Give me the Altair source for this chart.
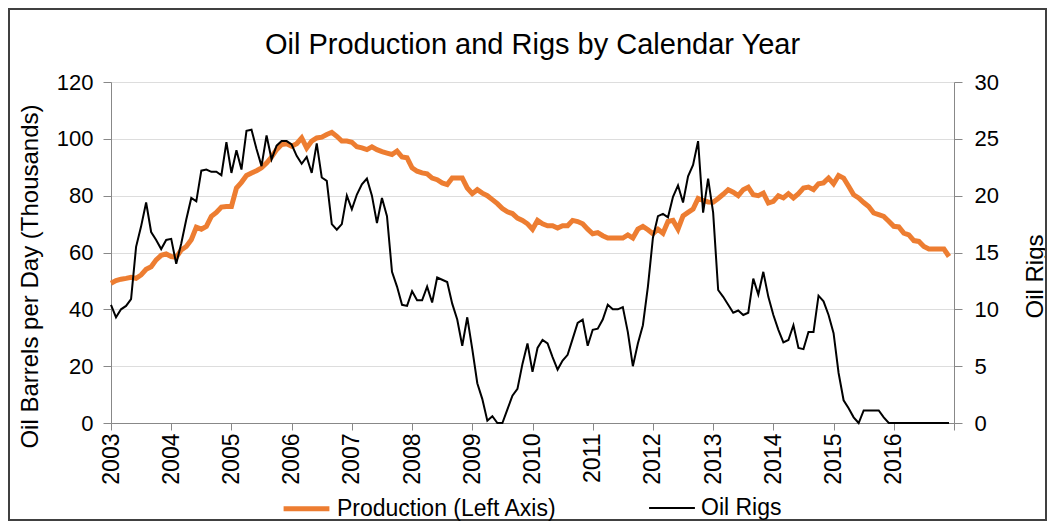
import altair as alt
import pandas as pd

# Monthly values, Jan 2003 .. Dec 2016
production = [
    49.2, 50.1, 50.6, 50.9, 51.3, 50.9, 52.1, 54.1, 55.0, 57.4, 59.0, 59.5,
    58.6, 58.3, 60.9, 62.1, 64.5, 68.9, 68.2, 69.2, 72.7, 74.1, 76.0, 76.2,
    76.2, 82.7, 84.7, 87.1, 88.0, 88.8, 89.8, 91.5, 93.6, 96.2, 98.0, 98.3,
    97.4, 98.3, 100.3, 96.8, 99.2, 100.3, 100.6, 101.5, 102.3, 100.9, 99.2, 99.2,
    98.8, 97.2, 96.8, 96.2, 97.2, 96.2, 95.5, 95.0, 94.5, 95.7, 93.6, 93.3,
    89.8, 88.6, 88.0, 87.7, 86.2, 85.6, 84.5, 83.9, 86.2, 86.2, 86.2, 82.7,
    80.7, 82.1, 80.9, 80.0, 78.6, 77.2, 75.5, 74.3, 73.7, 72.1, 71.3, 70.1,
    68.2, 71.3, 70.1, 69.4, 69.4, 68.6, 69.4, 69.4, 71.3, 70.9, 70.1, 68.2,
    66.6, 67.0, 65.9, 65.1, 65.1, 65.1, 65.1, 66.2, 65.1, 68.2, 69.2, 68.0,
    66.6, 68.2, 66.8, 70.9, 71.3, 68.2, 72.9, 74.1, 75.3, 79.0, 78.3, 77.8,
    77.7, 79.0, 80.5, 82.1, 81.2, 80.0, 82.1, 83.0, 80.3, 80.0, 80.9, 77.4,
    78.0, 80.0, 79.2, 80.7, 79.2, 80.7, 82.7, 83.0, 82.1, 84.2, 84.5, 86.2,
    84.2, 87.1, 86.2, 83.3, 80.3, 79.2, 77.6, 76.2, 73.9, 73.3, 72.7, 71.0,
    69.2, 69.0, 66.8, 66.2, 64.2, 63.9, 62.1, 61.2, 61.2, 61.2, 61.2, 58.6,
]

rigs = [
    10.4, 9.3, 10.0, 10.3, 10.9, 15.5, 17.3, 19.4, 16.8, 16.1, 15.3, 16.1,
    16.2, 14.0, 15.8, 17.9, 19.8, 19.5, 22.2, 22.3, 22.1, 22.1, 21.8, 24.7,
    22.0, 24.0, 22.3, 25.7, 25.8, 24.1, 22.6, 25.3, 23.2, 24.4, 24.8, 24.8,
    24.5, 23.5, 22.8, 23.4, 22.0, 24.6, 21.6, 21.3, 17.5, 17.0, 17.5, 20.0,
    18.8, 20.1, 21.0, 21.5, 20.0, 17.6, 19.8, 18.2, 13.3, 12.0, 10.4, 10.3,
    11.6, 10.8, 10.8, 12.0, 10.6, 12.8, 12.6, 12.4, 10.5, 9.1, 6.8, 9.3,
    6.5, 3.5, 2.1, 0.2, 0.6, 0.0, 0.0, 1.2, 2.4, 3.0, 5.2, 7.0,
    4.5, 6.6, 7.3, 7.0, 5.8, 4.7, 5.5, 6.0, 7.4, 8.8, 9.1, 6.8,
    8.2, 8.3, 9.1, 10.4, 10.0, 10.0, 10.2, 8.0, 5.0, 7.0, 8.6, 12.0,
    16.3, 18.2, 18.4, 18.1, 19.9, 20.9, 19.4, 21.7, 22.7, 24.8, 18.5, 21.5,
    18.5, 11.7, 11.1, 10.4, 9.7, 9.9, 9.5, 9.7, 12.7, 11.3, 13.3, 11.1,
    9.5, 8.2, 7.1, 7.3, 8.6, 6.6, 6.5, 8.0, 8.0, 11.2, 10.7, 9.5,
    7.9, 4.4, 2.0, 1.3, 0.5, 0.0, 1.1, 1.1, 1.1, 1.1, 0.5, 0.0,
    0.0, 0.0, 0.0, 0.0, 0.0, 0.0, 0.0, 0.0, 0.0, 0.0, 0.0, 0.0,
]

series_names = ["Production (Left Axis)", "Oil Rigs"]
series_colors = ["#ED7D31", "#000000"]
series_widths = [5.0, 2.0]
year_ticks = list(range(2003, 2018))
left_ticks = [0, 20, 40, 60, 80, 100, 120]
right_ticks = [0, 5, 10, 15, 20, 25, 30]
start_year = 2003

df = pd.DataFrame({
    "t": [start_year + k / 12 for k in range(len(production))],
    series_names[0]: production,
    series_names[1]: rigs,
})

FONT = "Liberation Sans"
GRID = "#a6a6a6"

x_enc = alt.X(
    "t:Q",
    scale=alt.Scale(domain=[2003, 2017], nice=False, zero=False),
    axis=alt.Axis(
        values=year_ticks, format="d",
        labelExpr="datum.value < 2017 ? datum.label : ''",
        labelAngle=270, labelAlign="right", labelBaseline="middle",
        labelPadding=3, tickSize=7, grid=False, title=None,
        labelFontSize=23, labelFlush=False, labelOverlap=False,
    ),
)

color_enc = alt.Color(
    "series:N",
    scale=alt.Scale(domain=series_names, range=series_colors),
    legend=alt.Legend(
        title=None, orient="none", direction="horizontal",
        legendX=170, legendY=401,
        symbolType="stroke", symbolSize=2100, labelFontSize=23,
        labelFont=FONT, labelColor="#000000", labelOffset=5,
        labelFontWeight="normal", labelLimit=400,
        columnPadding=88, symbolOffset=0, padding=0,
    ),
)
sw_enc = alt.StrokeWidth(
    "series:N",
    scale=alt.Scale(domain=series_names, range=series_widths),
)

base = alt.Chart(df).transform_fold(series_names, as_=["series", "value"])

prod_layer = base.transform_filter(
    alt.datum.series == series_names[0]
).mark_line().encode(
    x=x_enc,
    y=alt.Y(
        "value:Q",
        scale=alt.Scale(domain=[0, 120], nice=False),
        axis=alt.Axis(
            orient="left", values=left_ticks, title="Oil Barrels per Day (Thousands)",
            grid=True, tickSize=8, labelPadding=10, labelFontSize=22,
            titleFontSize=24, titleFontWeight="normal", titleAngle=270,
            titleX=-81, titleY=194, titleAlign="center", titleBaseline="middle",
        ),
    ),
    color=color_enc,
    strokeWidth=sw_enc,
)

rig_layer = base.transform_filter(
    alt.datum.series == series_names[1]
).mark_line().encode(
    x=x_enc,
    y=alt.Y(
        "value:Q",
        scale=alt.Scale(domain=[0, 30], nice=False),
        axis=alt.Axis(
            orient="right", values=right_ticks, title="Oil Rigs",
            grid=False, tickSize=8, labelPadding=12, labelFontSize=22,
            titleFontSize=24, titleFontWeight="normal", titleAngle=270,
            titleX=81, titleY=194, titleAlign="center", titleBaseline="middle",
        ),
    ),
    color=color_enc,
    strokeWidth=sw_enc,
)

border = alt.Chart(pd.DataFrame({"a": [0]})).mark_rect(
    fill=None, stroke="#404040", strokeWidth=2
).encode(
    x=alt.value(-102), x2=alt.value(935), y=alt.value(-73), y2=alt.value(438)
)

chart = alt.layer(prod_layer, rig_layer, border).resolve_scale(
    y="independent"
).properties(
    width=843, height=341,
    autosize=alt.AutoSizeParams(type="none"),
    padding={"left": 103, "top": 74, "right": 93, "bottom": 98},
    title=alt.Title(
        "Oil Production and Rigs by Calendar Year",
        fontSize=29, font=FONT, fontWeight="normal", color="#000000",
        anchor="middle", offset=0, dy=52,
    ),
).configure_axis(
    labelFont=FONT, titleFont=FONT, labelColor="#000000", titleColor="#000000",
    titleFontWeight="normal", domainColor=GRID, domainWidth=1.5,
    tickColor=GRID, tickWidth=1.5, gridColor=GRID, gridWidth=1.5,
).configure_view(stroke=None).configure(background="white")

chart.save("out.html", embed_options={"renderer": "svg", "actions": False})
